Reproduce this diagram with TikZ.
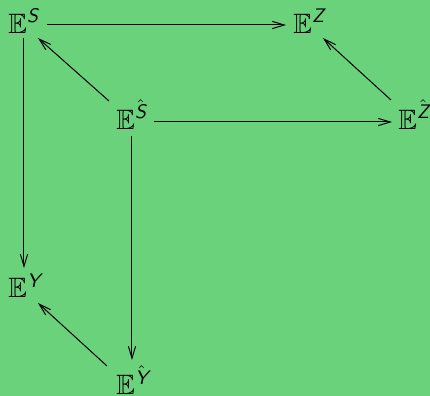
\documentclass[tikz,border=0pt]{standalone}
\usepackage{amsmath,amssymb}
\usetikzlibrary{arrows.meta,calc}
\definecolor{bg}{RGB}{106,210,123}
\newcommand{\ssup}[1]{\text{\sffamily\itshape #1}}
\tikzset{
  lbl/.style={inner sep=0pt, anchor=base west, font=\fontsize{14}{17}\selectfont},
  arr/.style={-{Straight Barb[length=6pt,width=3.6pt]}, line width=0.5pt}
}
\begin{document}
\begin{tikzpicture}[x=0.5pt,y=-0.5pt]
\fill[bg] (0,0) rectangle (430,396);
\useasboundingbox (0,0) rectangle (430,396);
\node[lbl] (s)    at (8,33)    {$\mathbb{E}^{\ssup{S}}$};
\node[lbl] (z)    at (293,33)  {$\mathbb{E}^{\ssup{Z}}$};
\node[lbl] (sh)   at (116,129) {$\mathbb{E}^{\hat{\ssup{S}}}$};
\node[lbl] (zh)   at (398,129) {$\mathbb{E}^{\hat{\ssup{Z}}}$};
\node[lbl] (y)    at (8,298)   {$\mathbb{E}^{\ssup{Y}}$};
\node[lbl] (yh)   at (116,395) {$\mathbb{E}^{\hat{\ssup{Y}}}$};
\draw[arr] ($(s.base west)+(39,-8)$) -- ($(z.base west)+(-7,-8)$);
\draw[arr] ($(sh.base west)+(-7,-28)$) -- ($(s.base west)+(30,5)$);
\draw[arr] ($(sh.base west)+(38,-7)$) -- ($(zh.base west)+(-6,-7)$);
\draw[arr] ($(zh.base west)+(-7,-29)$) -- ($(z.base west)+(30,5)$);
\draw[arr] ($(s.base west)+(16,5)$) -- ($(y.base west)+(16,-30)$);
\draw[arr] ($(sh.base west)+(16,7)$) -- ($(yh.base west)+(16,-35)$);
\draw[arr] ($(yh.base west)+(-9,-29)$) -- ($(y.base west)+(30,5)$);
\end{tikzpicture}
\end{document}
